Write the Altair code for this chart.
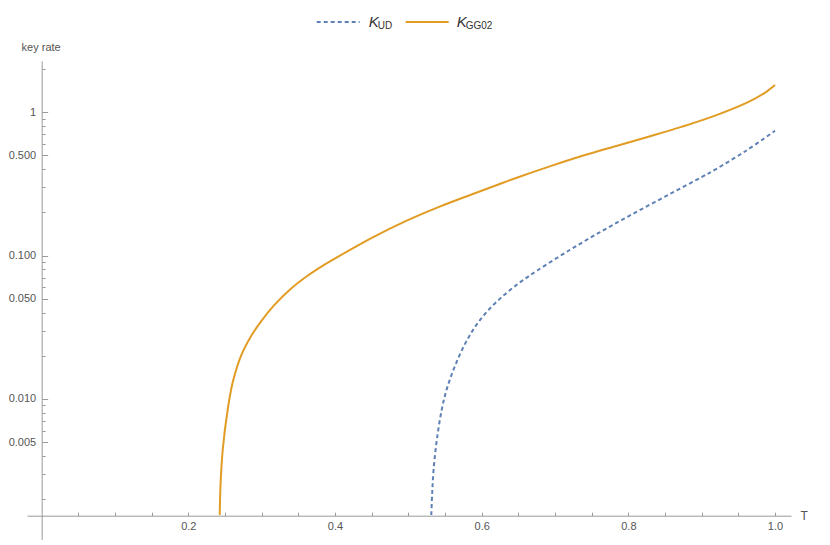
import altair as alt
import pandas as pd

# ---- data ----
gg02_T = [0.2428, 0.2440, 0.2470, 0.2538, 0.2606, 0.2718, 0.2853, 0.2987, 0.3168, 0.3391,
          0.3616, 0.3841, 0.4065, 0.4515, 0.4963, 0.5411, 0.5861, 0.6310, 0.6489, 0.6939,
          0.7387, 0.7836, 0.8286, 0.8734, 0.9183, 0.9632, 0.9856, 1.0]
gg02_K = [0.00155, 0.0026, 0.00447, 0.0085, 0.0131, 0.020, 0.0273, 0.0345, 0.0449, 0.0583,
          0.0718, 0.0855, 0.0998, 0.134, 0.174, 0.218, 0.267, 0.325, 0.351, 0.421,
          0.499, 0.582, 0.678, 0.794, 0.948, 1.178, 1.361, 1.549]

ud_T = [0.5313, 0.5325, 0.5345, 0.5390, 0.5457, 0.5524, 0.5636, 0.5771, 0.5906, 0.6085,
        0.6310, 0.6535, 0.6758, 0.7208, 0.7657, 0.8105, 0.8555, 0.9003, 0.9183, 0.9600, 1.0]
ud_K = [0.00155, 0.0022, 0.00324, 0.00525, 0.0085, 0.0117, 0.0170, 0.0241, 0.0316, 0.0413,
        0.0533, 0.0658, 0.0787, 0.110, 0.150, 0.201, 0.267, 0.354, 0.398, 0.537, 0.743]

x_label_values = [0.2, 0.4, 0.6, 0.8, 1.0]
y_label_values = [1, 0.5, 0.1, 0.05, 0.01, 0.005]
x_tick_values = [round(0.05 * i, 2) for i in range(1, 21)]
y_tick_values = [round(m * d, 6) for d in [0.001, 0.01, 0.1, 1] for m in range(1, 10)
                 if 0.00104 <= m * d <= 2.28]

# ---- layout ----
X_DOMAIN = [-0.02, 1.0218]
Y_DOMAIN = [0.001036, 2.28]
W, H = 764, 479
PX_PER_T = W / (X_DOMAIN[1] - X_DOMAIN[0])
Y_AXIS_OFF = -0.02 * PX_PER_T          # y axis drawn at T = 0
X_AXIS_Y = 454.7                       # x axis drawn at the lowest plotted rate
BLUE = "#5E81B5"
ORANGE = "#E19C24"
AXIS = "#9a9a9a"
LABEL = "#555555"
FONT = "Liberation Sans"

df_gg = pd.DataFrame({"T": gg02_T, "K": gg02_K})
df_ud = pd.DataFrame({"T": ud_T, "K": ud_K})
one = pd.DataFrame({"k": [0]})

xscale = alt.Scale(domain=X_DOMAIN, nice=False, zero=False)
yscale = alt.Scale(type="log", domain=Y_DOMAIN, nice=False)

label_expr = "datum.value == 1 ? '1' : format(datum.value, '.3f')"
major_test = "indexof([" + ",".join(str(v) for v in y_label_values) + "], datum.value) >= 0"

gg = alt.Chart(df_gg).mark_line(color=ORANGE, strokeWidth=2, interpolate="catmull-rom").encode(
    x=alt.X("T:Q", scale=xscale, axis=alt.Axis(
        orient="bottom", offset=-(H - X_AXIS_Y), values=x_label_values, format=".1f",
        ticks=False, domainColor=AXIS, domainWidth=1, labelColor=LABEL, labelFontSize=11,
        labelFont=FONT, labelPadding=5, labelFlush=False, grid=False,
        title="T", titleX=W + 9, titleY=0, titleAlign="left", titleBaseline="middle",
        titleFontWeight="normal", titleColor=LABEL, titleFontSize=12, titleFont=FONT)),
    y=alt.Y("K:Q", scale=yscale, axis=alt.Axis(
        orient="left", offset=Y_AXIS_OFF, values=y_label_values, labelExpr=label_expr,
        ticks=False, domainColor=AXIS, domainWidth=1, labelColor=LABEL, labelFontSize=11,
        labelFont=FONT, labelPadding=6, labelFlush=False, grid=False,
        title="key rate", titleAngle=0, titleX=-1, titleY=-14, titleAlign="center",
        titleBaseline="middle", titleFontWeight="normal", titleColor=LABEL,
        titleFontSize=11, titleFont=FONT)),
)

ud = alt.Chart(df_ud).mark_line(color=BLUE, strokeWidth=2, strokeDash=[4, 3],
                                interpolate="catmull-rom").encode(
    x=alt.X("T:Q", scale=xscale, title=None, axis=alt.Axis(
        orient="top", offset=-X_AXIS_Y, values=x_tick_values, labels=False, domain=False,
        ticks=True, tickColor=AXIS, tickWidth=1, tickSize=3.5, grid=False)),
    y=alt.Y("K:Q", scale=yscale, title=None, axis=alt.Axis(
        orient="right", offset=-(W + Y_AXIS_OFF), values=y_tick_values, labels=False,
        domain=False, ticks=True, tickColor=AXIS, tickWidth=1,
        tickSize={"condition": {"test": major_test, "value": 6}, "value": 3.5},
        grid=False)),
)

# ---- legend (top centre) ----
LX, LY = 289.7, -39
sw_ud = alt.Chart(one).mark_rule(color=BLUE, strokeWidth=2, strokeDash=[4, 3]).encode(
    x=alt.value(LX), x2=alt.value(LX + 43), y=alt.value(LY))
k_ud = alt.Chart(one).mark_text(text="K", font=FONT, fontStyle="italic", fontSize=15,
                                align="left", baseline="alphabetic", color="#333333").encode(
    x=alt.value(LX + 52), y=alt.value(LY + 5))
s_ud = alt.Chart(one).mark_text(text="UD", font=FONT, fontSize=10, align="left",
                                baseline="alphabetic", color="#333333").encode(
    x=alt.value(LX + 61), y=alt.value(LY + 6.5))
sw_gg = alt.Chart(one).mark_rule(color=ORANGE, strokeWidth=2).encode(
    x=alt.value(LX + 89), x2=alt.value(LX + 132), y=alt.value(LY))
k_gg = alt.Chart(one).mark_text(text="K", font=FONT, fontStyle="italic", fontSize=15,
                                align="left", baseline="alphabetic", color="#333333").encode(
    x=alt.value(LX + 140), y=alt.value(LY + 5))
s_gg = alt.Chart(one).mark_text(text="GG02", font=FONT, fontSize=10, align="left",
                                baseline="alphabetic", color="#333333").encode(
    x=alt.value(LX + 149), y=alt.value(LY + 6.5))

chart = alt.layer(gg, ud, sw_ud, k_ud, s_ud, sw_gg, k_gg, s_gg).resolve_scale(
    x="independent", y="independent"
).properties(
    width=W, height=H, padding={"left": 0, "top": 7, "right": 5, "bottom": 0}
).configure_view(strokeWidth=0).configure_axis(grid=False)

chart.save("out.html", embed_options={"renderer": "svg", "actions": False})
